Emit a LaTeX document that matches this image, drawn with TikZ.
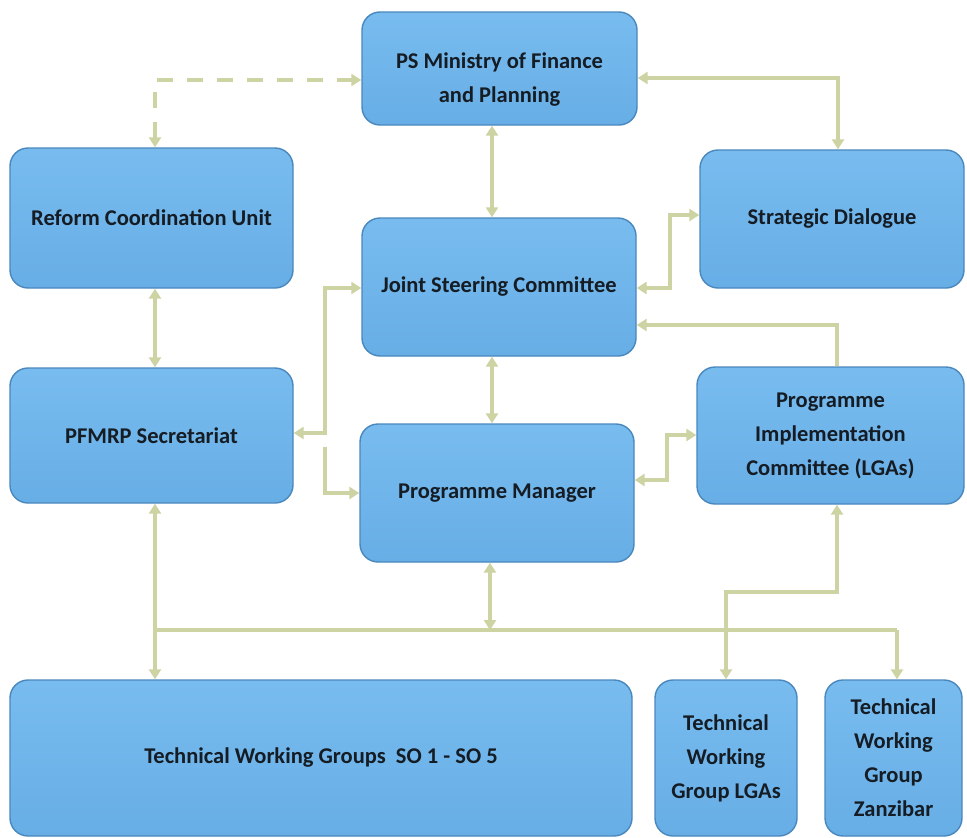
\documentclass[tikz,border=0pt]{standalone}
\usepackage{fontspec}
\setmainfont{Carlito}
\usetikzlibrary{arrows.meta,calc}
\definecolor{boxfill}{HTML}{67AEE6}
\definecolor{boxtop}{HTML}{78BCEF}
\definecolor{boxedge}{HTML}{4A87BD}
\definecolor{conncol}{HTML}{CDD3A2}
\definecolor{txtcol}{HTML}{151C24}
\tikzset{
  box/.style={draw=boxedge, line width=1.4pt, rounded corners=18pt,
    top color=boxtop, bottom color=boxfill, align=center,
    text=txtcol, font=\fontsize{22.5}{34}\selectfont\bfseries, inner sep=4pt},
  boxtext/.style={align=center, text=txtcol, font=\fontsize{22.5}{34}\selectfont\bfseries, inner sep=0pt},
  conn/.style={draw=conncol, line width=4pt,
    arrows={-}, >={Triangle[length=10pt,width=12pt]}},
  dconn/.style={conn, dash pattern=on 16pt off 14pt},
}
\begin{document}
\begin{tikzpicture}[x=1pt,y=-1pt]
\useasboundingbox (0,0) rectangle (967,838);
% boxes
\node[box, minimum width=275, minimum height=113] (ps) at (499.5,68.5) {};
\node[boxtext] (pst) at (499.5,80) {PS Ministry of Finance\\and Planning};
\node[box, minimum width=283, minimum height=140] (rcu) at (151.5,218) {Reform Coordination Unit};
\node[box, minimum width=264, minimum height=138] (sd) at (832,219) {Strategic Dialogue};
\node[box, minimum width=274, minimum height=138] (jsc) at (499,287) {Joint Steering Committee};
\node[box, minimum width=283, minimum height=135] (sec) at (151.5,435.5) {PFMRP Secretariat};
\node[box, minimum width=274, minimum height=138] (pm) at (497,493) {Programme Manager};
\node[box, minimum width=267, minimum height=137] (pic) at (830.5,435.5) {Programme\\Implementation\\Committee (LGAs)};
\node[box, minimum width=622, minimum height=156] (twg) at (321,758) {Technical Working Groups\ \ SO 1 - SO 5};
\node[box, minimum width=142, minimum height=156] (lga) at (726,758) {Technical\\Working\\Group LGAs};
\node[box, minimum width=137, minimum height=156] (zan) at (893.5,758) {Technical\\Working\\Group\\Zanzibar};
% connectors
\draw[dconn,<->] (155,0 |- rcu.north) |- (ps.west |- 0,80);
\draw[conn,<->] (492,0 |- ps.south) -- (492,0 |- jsc.north);
\draw[conn,<->] (ps.east |- 0,78) -| (838,0 |- sd.north);
\draw[conn,<->] (155,0 |- rcu.south) -- (155,0 |- sec.north);
\draw[conn,<->] (sec.east |- 0,433) -| (325,288) -- (jsc.west |- 0,288);
\coordinate (s1) at (325,447);
\draw[conn,->] (s1) |- (pm.west);
\draw[conn,<->] (492,0 |- jsc.south) -- (492,0 |- pm.north);
\draw[conn,<->] (jsc.east |- 0,288) -| (670,215) -- (sd.west |- 0,215);
\draw[conn,<->] (pm.east |- 0,480) -| (667,435) -- (pic.west |- 0,435);
\draw[conn,->] (837,0 |- pic.north) |- (jsc.east |- 0,325);
\draw[conn,<->] (837,0 |- pic.south) |- (726,592) -- (lga.north);
\coordinate (busL) at (155,630);
\coordinate (busR) at (897,630);
\draw[conn] (busL) -- (busR);
\draw[conn,<->] (155,0 |- sec.south) -- (155,0 |- twg.north);
\draw[conn,<->] (490,0 |- pm.south) -- (490,630);
\draw[conn,->] (busR) -- (897,0 |- zan.north);
\end{tikzpicture}
\end{document}
